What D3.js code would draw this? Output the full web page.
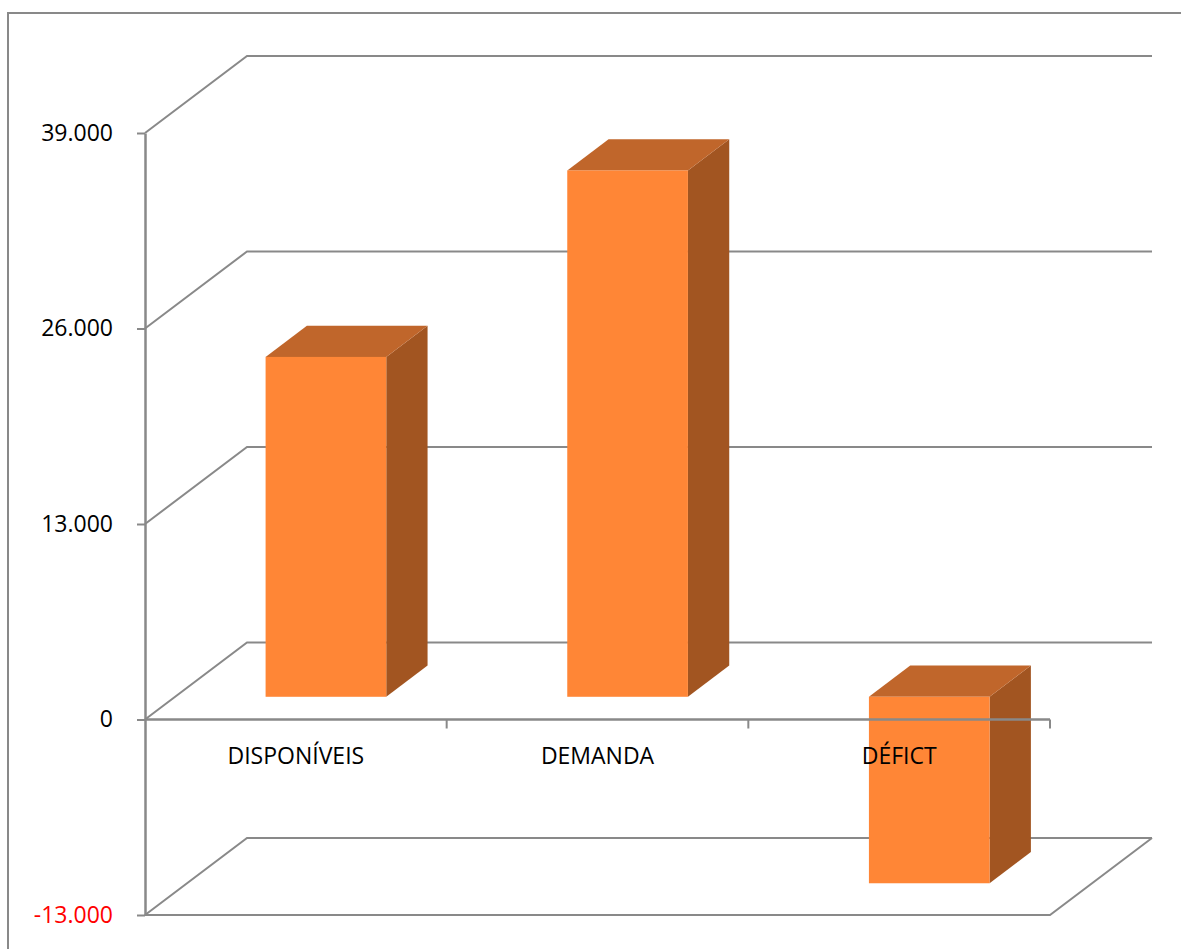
<!DOCTYPE html>
<html>
<head>
<meta charset="utf-8">
<script src="https://cdn.jsdelivr.net/npm/d3@7"></script>
<style>
html,body{margin:0;padding:0;background:#fff;}
svg{display:block;}
</style>
</head>
<body>
<svg id="chart" width="1181" height="949"></svg>
<script>
// ---- data ----
const categories = ["DISPONÍVEIS", "DEMANDA", "DÉFICT"];
const values = [22600, 35000, -12400];
const yTickValues = [-13000, 0, 13000, 26000, 39000];
const yTickLabels = ["-13.000", "0", "13.000", "26.000", "39.000"];

// ---- layout ----
const W = 1181, H = 949;
const svg = d3.select("#chart");
const font = "'Open Sans', 'Noto Sans', sans-serif";
const gridColor = "#898989";

const y = d3.scaleLinear().domain([-13000, 39000]).range([915, 133]);
const x = d3.scaleBand().domain(categories).range([145, 1050]);
const bw = x.bandwidth();
// depth projection (0 = front plane, 1 = back wall)
const depthX = d3.scaleLinear().domain([0, 1]).range([0, 102]);
const depthY = d3.scaleLinear().domain([0, 1]).range([0, -77]);
const barD0 = 0.295, barD1 = 0.70;

const colors = {front: "#FF8636", top: "#C0662B", side: "#A25521"};

// outer frame
svg.append("rect")
  .attr("x", 8).attr("y", 13).attr("width", W + 20).attr("height", H + 20)
  .attr("fill", "none").attr("stroke", gridColor).attr("stroke-width", 2);

// back wall gridlines + left side diagonals
const x0 = x.range()[0], x1 = x.range()[1];
const grid = svg.append("g").attr("stroke", gridColor).attr("stroke-width", 2).attr("fill", "none");
yTickValues.forEach(v => {
  const yf = y(v), yb = y(v) + depthY(1);
  grid.append("path").attr("d", `M${x0},${yf}L${x0 + depthX(1)},${yb}L${x1 + depthX(1)},${yb}`);
});
// floor front edge and right diagonal
const yFloor = y(y.domain()[0]);
grid.append("path").attr("d", `M${x0},${yFloor}L${x1},${yFloor}L${x1 + depthX(1)},${yFloor + depthY(1)}`);

// bars
const bars = svg.append("g");
categories.forEach((c, i) => {
  const v = values[i];
  const fx = x(c) + bw * 0.3 + depthX(barD0);
  const fw = bw * 0.4;
  const oy = depthY(barD0);
  const yTop = y(Math.max(0, v)) + oy;
  const yBot = y(Math.min(0, v)) + oy;
  const ddx = depthX(barD1) - depthX(barD0);
  const ddy = depthY(barD1) - depthY(barD0);
  // side
  bars.append("path")
    .attr("d", `M${fx + fw},${yTop}L${fx + fw + ddx},${yTop + ddy}L${fx + fw + ddx},${yBot + ddy}L${fx + fw},${yBot}Z`)
    .attr("fill", colors.side);
  // top
  bars.append("path")
    .attr("d", `M${fx},${yTop}L${fx + ddx},${yTop + ddy}L${fx + fw + ddx},${yTop + ddy}L${fx + fw},${yTop}Z`)
    .attr("fill", colors.top);
  // front
  bars.append("rect")
    .attr("x", fx).attr("y", yTop).attr("width", fw).attr("height", yBot - yTop)
    .attr("fill", colors.front);
});

// y axis
const yAxis = d3.axisLeft(y)
  .tickValues(yTickValues)
  .tickFormat((d, i) => yTickLabels[i])
  .tickSize(8)
  .tickSizeOuter(0)
  .tickPadding(24);
const ya = svg.append("g").attr("transform", `translate(${x0},0)`).call(yAxis);
ya.select(".domain").attr("stroke", gridColor).attr("stroke-width", 2.5);
ya.selectAll(".tick line").attr("stroke", gridColor).attr("stroke-width", 2);
ya.selectAll(".tick text")
  .attr("font-family", font).attr("font-size", 23)
  .attr("fill", (d) => d < 0 ? "#FF0000" : "#000");

// category axis at zero
const y0 = y(0);
const xa = svg.append("g");
xa.append("line").attr("x1", x0).attr("x2", x1).attr("y1", y0).attr("y2", y0)
  .attr("stroke", gridColor).attr("stroke-width", 2.5);
const bounds = [x0].concat(categories.map(c => x(c) + bw));
xa.selectAll(".ctick").data(bounds.slice(1)).enter().append("line")
  .attr("x1", d => d).attr("x2", d => d).attr("y1", y0).attr("y2", y0 + 9)
  .attr("stroke", gridColor).attr("stroke-width", 2);
xa.selectAll(".clabel").data(categories).enter().append("text")
  .attr("x", d => x(d) + bw / 2)
  .attr("y", y0 + 44)
  .attr("text-anchor", "middle")
  .attr("font-family", font).attr("font-size", 23)
  .attr("fill", "#000")
  .text(d => d);
</script>
</body>
</html>
